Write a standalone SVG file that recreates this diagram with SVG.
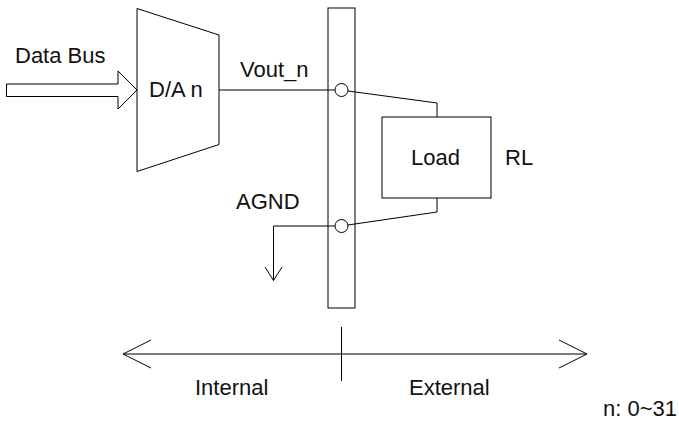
<svg xmlns="http://www.w3.org/2000/svg" width="679" height="421" viewBox="0 0 679 421">
<style>
.s{fill:none;stroke:#000;stroke-width:1}
.w{fill:#fff;stroke:#000;stroke-width:1}
text{font-family:"Liberation Sans",Arial,sans-serif;font-size:22px;fill:#111}
</style>
<rect width="679" height="421" fill="#fff"/>
<g id="bar"><rect class="w" x="328" y="8" width="27" height="300"/></g>
<g id="connectors">
<path class="s" d="M219 90H335"/>
<path class="s" d="M348 91L437 103V117"/>
<path class="s" d="M437 198V212L348 225"/>
<path class="s" d="M335 226H273.500V280.500"/>
<path class="s" d="M265 267L273.500 280.500L282 267"/>
<path class="s" d="M123 354H587"/>
<path class="s" d="M151 340L123 354L151 368M559 340L587 354L559 368"/>
<path class="s" d="M341.500 327V381"/>
</g>
<g id="bus"><path class="w" d="M6.500 84H118V71L137 90L118 109V96.500H6.500Z"/><text x="15" y="63">Data Bus</text></g>
<g id="dac"><path class="w" d="M137 8.500L219 35V144.500L137 171.500Z"/><text x="149" y="97">D/A n</text></g>
<g id="vout"><circle class="s" cx="341.500" cy="90" r="6.500"/><text x="240" y="77">Vout_n</text></g>
<g id="agnd"><circle class="s" cx="341.500" cy="226" r="6.500"/><text x="236" y="209">AGND</text></g>
<g id="load"><rect class="w" x="382" y="117" width="109" height="81"/><text x="411" y="165">Load</text><text x="505" y="165">RL</text></g>
<text x="195" y="395">Internal</text>
<text x="409" y="395">External</text>
<text x="603" y="416">n: 0~31</text>
</svg>
